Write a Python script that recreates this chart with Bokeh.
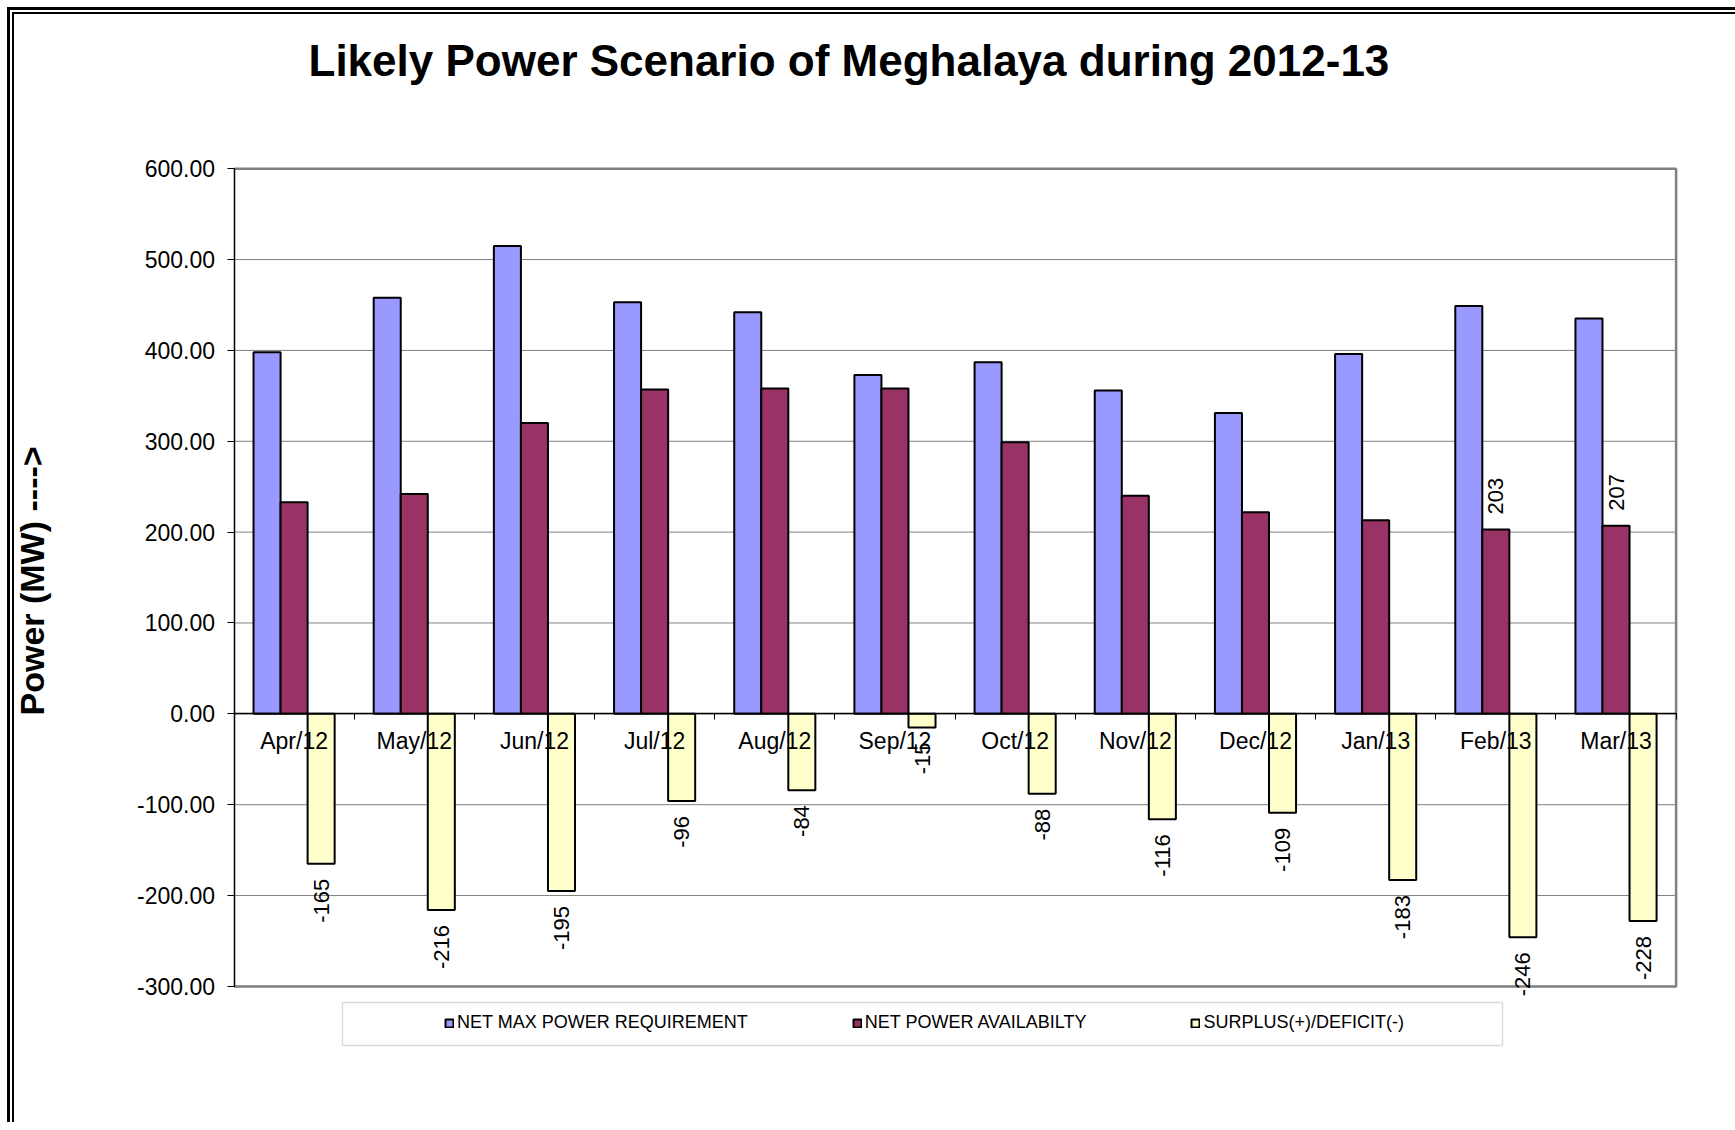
import math
from bokeh.plotting import figure
from bokeh.models import (Range1d, FixedTicker, LinearAxis, PrintfTickFormatter,
                          Legend, LegendItem, BoxAnnotation, ColumnDataSource, Label)
from bokeh.core.properties import value
from bokeh.embed import file_html
from bokeh.resources import INLINE

# ---------------- data ----------------
months = ["Apr/12", "May/12", "Jun/12", "Jul/12", "Aug/12", "Sep/12",
          "Oct/12", "Nov/12", "Dec/12", "Jan/13", "Feb/13", "Mar/13"]
net_max_power_requirement = [398, 458, 515, 453, 442, 373, 387, 356, 331, 396, 449, 435]
net_power_availability = [233, 242, 320, 357, 358, 358, 299, 240, 222, 213, 203, 207]
surplus_deficit = [-165, -216, -195, -96, -84, -15, -88, -116, -109, -183, -246, -228]
availability_labelled_months = ["Feb/13", "Mar/13"]
y_ticks = [-300, -200, -100, 0, 100, 200, 300, 400, 500, 600]
series_names = ["NET MAX POWER REQUIREMENT", "NET POWER AVAILABILTY", "SURPLUS(+)/DEFICIT(-)"]
title_text = "Likely Power Scenario of Meghalaya during 2012-13"
y_label = "Power (MW) ---->"

# ---------------- layout (pixels on the page) ----------------
FONT = "Liberation Sans"
W, H = 1735, 1122
FL, FR, FT, FB = 16, 1700, 16, 1100          # drawing frame on the canvas
PLOT_L, PLOT_R = 233.5, 1675.6                 # plot area left/right
PLOT_T, PLOT_B = 168.2, 985.9                  # plot area top/bottom
n = len(months)
ylo, yhi = y_ticks[0], y_ticks[-1]
px_per_x = (PLOT_R - PLOT_L) / n
px_per_y = (PLOT_B - PLOT_T) / (yhi - ylo)
x_min = -(PLOT_L - FL) / px_per_x
x_max = n + (FR - PLOT_R) / px_per_x
y_max = yhi + (PLOT_T - FT) / px_per_y
y_min = ylo - (FB - PLOT_B) / px_per_y


def px2x(px):
    return (px - PLOT_L) / px_per_x


def py2y(py):
    return yhi - (py - PLOT_T) / px_per_y


bw = 0.225
centers = [i + 0.5 for i in range(n)]

src = ColumnDataSource(dict(
    x_req=[c - bw for c in centers],
    x_av=centers,
    x_sur=[c + bw for c in centers],
    req=net_max_power_requirement,
    av=net_power_availability,
    sur=surplus_deficit,
    sur_lbl=[str(v) for v in surplus_deficit],
))
idx = [months.index(m) for m in availability_labelled_months]
src_av_lbl = ColumnDataSource(dict(
    x=[centers[i] for i in idx],
    y=[net_power_availability[i] for i in idx],
    t=[str(net_power_availability[i]) for i in idx],
))

p = figure(width=W, height=H, output_backend="svg", toolbar_location=None,
           x_range=Range1d(x_min, x_max), y_range=Range1d(y_min, y_max),
           x_axis_type=None,
           min_border_left=FL, min_border_right=W - FR, min_border_top=FT, min_border_bottom=H - FB)
p.background_fill_color = "white"
p.border_fill_color = None
p.outline_line_color = None
p.grid.visible = False
p.styles = {"box-shadow": "inset 7px 7px 0 0 white, inset 10px 10px 0 0 black, "
                          "inset 12px 12px 0 0 white, inset 14px 14px 0 0 black"}

# grid lines and grey plot-area border
p.segment(x0=0, x1=n, y0=y_ticks, y1=y_ticks, line_color="#808080", line_width=1,
          level="underlay")
p.line(x=[0, n, n, 0], y=[yhi, yhi, ylo, ylo], line_color="#808080", line_width=2.5)

# y axis at x = 0
ya = p.yaxis[0]
ya.fixed_location = 0
ya.bounds = (ylo, yhi)
ya.ticker = FixedTicker(ticks=y_ticks)
ya.formatter = PrintfTickFormatter(format="%.2f")
ya.major_label_text_font = FONT
ya.major_label_text_font_size = "23px"
ya.major_label_text_color = "black"
ya.major_label_standoff = 12
ya.major_tick_in = 0
ya.major_tick_out = 7
ya.major_tick_line_color = "black"
ya.minor_tick_line_color = None
ya.axis_line_color = "black"
ya.axis_line_width = 1.5

# bars
r1 = p.vbar(x="x_req", top="req", bottom=0, width=bw, source=src,
            fill_color="#9999FF", line_color="black", line_width=2)
r2 = p.vbar(x="x_av", top="av", bottom=0, width=bw, source=src,
            fill_color="#993366", line_color="black", line_width=2)
r3 = p.vbar(x="x_sur", top="sur", bottom=0, width=bw, source=src,
            fill_color="#FFFFCC", line_color="black", line_width=2)

# data labels
p.text(x="x_sur", y="sur", text="sur_lbl", source=src, angle=math.pi / 2,
       text_align="right", text_baseline="middle", y_offset=15,
       text_font=value(FONT), text_font_size="22px", text_color="black")
p.text(x="x", y="y", text="t", source=src_av_lbl, angle=math.pi / 2,
       text_align="left", text_baseline="middle", y_offset=-15,
       text_font=value(FONT), text_font_size="22px", text_color="black")

# category axis at zero: boundary ticks + centred labels
bounds_ticks = list(range(n + 1))
tick_ax = LinearAxis(ticker=FixedTicker(ticks=bounds_ticks), fixed_location=0,
                     bounds=(0, n),
                     major_label_overrides={t: "" for t in bounds_ticks},
                     major_tick_in=0, major_tick_out=6,
                     major_tick_line_color="black", minor_tick_line_color=None,
                     axis_line_color="black", axis_line_width=1.5)
lab_ax = LinearAxis(ticker=FixedTicker(ticks=centers), fixed_location=0,
                    major_label_overrides={c: m for c, m in zip(centers, months)},
                    major_tick_in=0, major_tick_out=0, minor_tick_line_color=None,
                    axis_line_color=None, major_label_standoff=14,
                    major_label_text_font=FONT, major_label_text_font_size="23px",
                    major_label_text_color="black")
p.add_layout(tick_ax, "below")
p.add_layout(lab_ax, "below")

# title and y-axis title
p.add_layout(Label(x=px2x(308), y=py2y(59.5), text=title_text,
                   text_align="left", text_baseline="alphabetic",
                   text_font=FONT, text_font_size="44px", text_font_style="bold",
                   text_color="black"))
p.add_layout(Label(x=px2x(31.5), y=py2y(715), text=y_label, angle=math.pi / 2,
                   text_align="left", text_baseline="alphabetic",
                   text_font=FONT, text_font_size="34px", text_font_style="bold",
                   text_color="black"))

# legend
legend = Legend(items=[LegendItem(label=series_names[0], renderers=[r1]),
                       LegendItem(label=series_names[1], renderers=[r2]),
                       LegendItem(label=series_names[2], renderers=[r3])],
                orientation="horizontal", location=(416, 55), spacing=104, padding=12,
                glyph_width=10, glyph_height=10, label_standoff=3, margin=0,
                label_text_font=FONT, label_text_font_size="18px", label_text_color="black",
                border_line_alpha=0, background_fill_alpha=0)
p.add_layout(legend, "center")

# legend frame
p.add_layout(BoxAnnotation(left=342, right=1502, top=1002, bottom=1045,
                           left_units="canvas", right_units="canvas",
                           top_units="canvas", bottom_units="canvas",
                           fill_color=None, line_color="#808080", line_width=1.3))

open("out.html", "w").write(file_html(p, INLINE))
